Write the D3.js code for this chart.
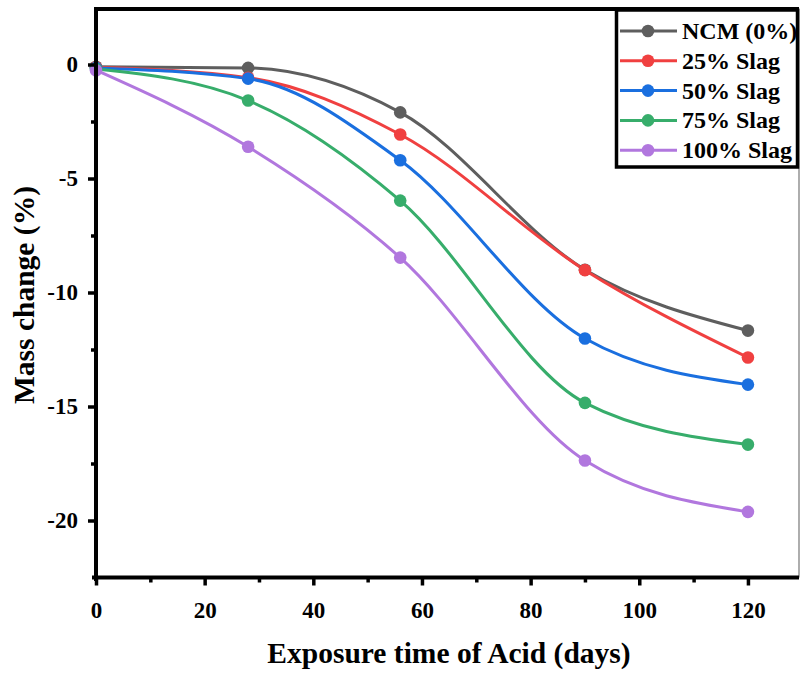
<!DOCTYPE html>
<html><head><meta charset="utf-8">
<script src="https://cdn.jsdelivr.net/npm/d3@7"></script>
<style>body{margin:0;background:#fff}svg{display:block}</style>
</head><body>
<svg id="chart" width="800" height="673"></svg>
<script>
const days = [0, 28, 56, 90, 120];
const seriesNames = ["NCM (0%)", "25% Slag", "50% Slag", "75% Slag", "100% Slag"];
const ncm = [-0.1, -0.15, -2.1, -9.0, -11.67];
const slag25 = [-0.12, -0.58, -3.07, -9.02, -12.85];
const slag50 = [-0.15, -0.62, -4.2, -12.02, -14.04];
const slag75 = [-0.2, -1.58, -5.97, -14.84, -16.67];
const slag100 = [-0.25, -3.61, -8.47, -17.37, -19.62];
const colors = ["#5e5e5e", "#f04040", "#1a6fdf", "#37ad6b", "#b177de"];
const xMajor = [0, 20, 40, 60, 80, 100, 120];
const xMinor = [10, 30, 50, 70, 90, 110];
const yMajor = [0, -5, -10, -15, -20];
const yMinor = [-2.5, -7.5, -12.5, -17.5];

const allSeries = [ncm, slag25, slag50, slag75, slag100];
const svg = d3.select("#chart");
const font = "'Liberation Serif','Times New Roman',serif";
const x = d3.scaleLinear().domain([0, 129.4]).range([96, 799]);
const y = d3.scaleLinear().domain([-22.5, 2.5]).range([577.5, 7.5]);

// frame: top and right
svg.append("line").attr("x1", 94).attr("x2", 799).attr("y1", 9).attr("y2", 9)
  .attr("stroke", "#000").attr("stroke-width", 4);
svg.append("line").attr("x1", 799).attr("x2", 799).attr("y1", 9).attr("y2", 577.5)
  .attr("stroke", "#777").attr("stroke-width", 1.2);

// lines
const line = d3.line().x((d, i) => x(days[i])).y(d => y(d)).curve(d3.curveMonotoneX);
allSeries.forEach((s, k) => {
  svg.append("path").attr("d", line(s)).attr("fill", "none")
    .attr("stroke", colors[k]).attr("stroke-width", 3);
});
allSeries.forEach((s, k) => {
  svg.selectAll(null).data(s).enter().append("circle")
    .attr("cx", (d, i) => x(days[i])).attr("cy", d => y(d)).attr("r", 6.3)
    .attr("fill", colors[k]);
});

// axes
const fmt = d => String(d);
const xAxis = svg.append("g").attr("transform", "translate(0,577.5)")
  .call(d3.axisBottom(x).tickValues(xMajor).tickSize(8).tickPadding(16).tickFormat(fmt));
const xAxisMinor = svg.append("g").attr("transform", "translate(0,577.5)")
  .call(d3.axisBottom(x).tickValues(xMinor).tickSize(5).tickFormat(""));
const yAxis = svg.append("g").attr("transform", "translate(96,0)")
  .call(d3.axisLeft(y).tickValues(yMajor).tickSize(8).tickPadding(10).tickFormat(fmt));
const yAxisMinor = svg.append("g").attr("transform", "translate(96,0)")
  .call(d3.axisLeft(y).tickValues(yMinor).tickSize(5).tickFormat(""));
[xAxis, xAxisMinor, yAxis, yAxisMinor].forEach(g => {
  g.select(".domain").remove();
  g.selectAll(".tick line").attr("stroke", "#000").attr("stroke-width", 3.5);
  g.selectAll("text").attr("font-family", font).attr("font-weight", "bold")
    .attr("font-size", 23).attr("fill", "#000");
});
svg.append("line").attr("x1", 92).attr("x2", 799).attr("y1", 577.5).attr("y2", 577.5)
  .attr("stroke", "#000").attr("stroke-width", 4);
svg.append("line").attr("x1", 96).attr("x2", 96).attr("y1", 7).attr("y2", 581)
  .attr("stroke", "#000").attr("stroke-width", 4);

// axis titles
svg.append("text").attr("x", 449).attr("y", 663).attr("text-anchor", "middle")
  .attr("font-family", font).attr("font-weight", "bold").attr("font-size", 29.5)
  .text("Exposure time of Acid (days)");
svg.append("text").attr("transform", "translate(34,295) rotate(-90)").attr("text-anchor", "middle")
  .attr("font-family", font).attr("font-weight", "bold").attr("font-size", 29.5)
  .text("Mass change (%)");

// legend
svg.append("rect").attr("x", 616.5).attr("y", 10).attr("width", 181).attr("height", 157)
  .attr("fill", "#fff").attr("stroke", "#000").attr("stroke-width", 3.5);
seriesNames.forEach((n, k) => {
  const yy = 31 + k * 29.8;
  svg.append("line").attr("x1", 620).attr("x2", 677).attr("y1", yy).attr("y2", yy)
    .attr("stroke", colors[k]).attr("stroke-width", 3);
  svg.append("circle").attr("cx", 648).attr("cy", yy).attr("r", 6.3).attr("fill", colors[k]);
  svg.append("text").attr("x", 682).attr("y", yy + 8).attr("font-family", font)
    .attr("font-weight", "bold").attr("font-size", 24).text(n);
});
</script>
</body></html>
